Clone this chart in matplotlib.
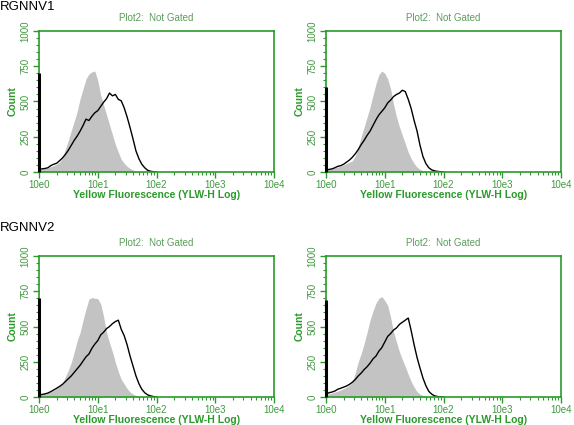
import numpy as np
import matplotlib
matplotlib.use("Agg")
import matplotlib.pyplot as plt
from matplotlib.ticker import FixedLocator, MultipleLocator, LogLocator, NullFormatter

plt.rcParams['font.family'] = ['Liberation Sans', 'DejaVu Sans']

# channel positions (log10 of fluorescence)
log_fl = [0.00, 0.05, 0.10, 0.15, 0.20, 0.25, 0.30, 0.35, 0.40, 0.45,
          0.50, 0.55, 0.60, 0.65, 0.70, 0.75, 0.80, 0.85, 0.90, 0.95,
          1.00, 1.05, 1.10, 1.15, 1.20, 1.25, 1.30, 1.35, 1.40, 1.45,
          1.50, 1.55, 1.60, 1.65, 1.70, 1.75, 1.80, 1.85, 1.90, 1.95, 2.00]

# control (grey filled) histograms
gray_tl = [20, 22, 25, 30, 38, 45, 55, 70, 100, 165, 225, 295, 360, 430, 520, 590, 660, 695, 710, 716,
           650, 545, 475, 405, 335, 265, 195, 140, 90, 62, 40, 25, 14, 7, 3, 1, 0, 0, 0, 0, 0]
gray_tr = [15, 20, 25, 30, 35, 42, 50, 60, 70, 80, 115, 180, 250, 320, 390, 460, 545, 625, 690, 716,
           700, 660, 590, 480, 390, 320, 260, 200, 140, 95, 60, 35, 18, 8, 3, 1, 0, 0, 0, 0, 0]
gray_bl = [18, 22, 26, 30, 38, 48, 60, 75, 95, 145, 190, 245, 320, 400, 457, 545, 625, 695, 705, 700,
           698, 660, 570, 457, 385, 320, 245, 180, 125, 92, 60, 35, 20, 10, 4, 1, 0, 0, 0, 0, 0]
gray_br = [18, 22, 28, 35, 42, 50, 60, 70, 85, 105, 175, 250, 310, 380, 460, 545, 610, 665, 700, 712,
           685, 650, 565, 460, 390, 320, 265, 215, 160, 110, 70, 38, 20, 10, 4, 1, 0, 0, 0, 0, 0]

# sample (black line) histograms
black_tl = [20, 22, 25, 30, 45, 55, 62, 80, 100, 125, 155, 190, 225, 255, 290, 330, 375, 365, 395, 420,
            435, 465, 495, 520, 560, 540, 550, 515, 505, 455, 390, 315, 235, 150, 95, 55, 30, 12, 5, 2, 0]
black_tr = [15, 18, 22, 30, 40, 45, 55, 70, 85, 105, 130, 160, 195, 225, 260, 290, 330, 370, 405, 430,
            455, 490, 510, 535, 550, 560, 580, 570, 515, 450, 365, 290, 190, 110, 60, 30, 15, 8, 4, 2, 0]
black_bl = [15, 18, 22, 28, 38, 50, 62, 75, 90, 110, 130, 150, 175, 200, 225, 255, 285, 305, 345, 375,
            400, 440, 460, 485, 500, 520, 535, 545, 480, 435, 370, 290, 220, 150, 95, 55, 30, 15, 8, 3, 0]
black_br = [20, 30, 35, 42, 55, 62, 70, 78, 90, 105, 125, 150, 170, 195, 215, 240, 270, 290, 325, 350,
            390, 430, 450, 475, 490, 515, 530, 545, 560, 470, 370, 280, 205, 135, 80, 40, 20, 8, 3, 1, 0]

# counts in the first (off-scale) channel
first_channel = [700, 600, 700, 690]

panel_titles = ["RGNNV1", "", "RGNNV2", ""]
x_ticks = [1, 10, 100, 1000, 10000]
x_ticklabels = ["10e0", "10e1", "10e2", "10e3", "10e4"]
y_ticks = [0, 250, 500, 750, 1000]

green = '#2a9a2a'
text_green = '#3f9a3f'
title_green = '#5a9e5a'

fig = plt.figure(figsize=(5.74, 4.25), dpi=100)

positions = [
    [39 / 574, 253 / 425, 235 / 574, 141 / 425],
    [326 / 574, 253 / 425, 235 / 574, 141 / 425],
    [39 / 574, 28 / 425, 235 / 574, 141 / 425],
    [326 / 574, 28 / 425, 235 / 574, 141 / 425],
]
label_y = [0.983, None, 0.463, None]
grays = [gray_tl, gray_tr, gray_bl, gray_br]
blacks = [black_tl, black_tr, black_bl, black_br]

x = 10 ** np.array(log_fl)

for i, pos in enumerate(positions):
    ax = fig.add_axes(pos)
    ax.fill_between(x, grays[i], color='#c3c3c3', lw=0)
    ax.plot(x, blacks[i], color='black', lw=1.0)
    ax.vlines(1, 0, first_channel[i], color='black', lw=2.2, clip_on=False, zorder=5)

    ax.set_xscale('log')
    ax.set_xlim(1, 10000)
    ax.set_ylim(0, 1000)

    ax.xaxis.set_major_locator(FixedLocator(x_ticks))
    ax.xaxis.set_minor_locator(LogLocator(base=10, subs=np.arange(2, 10)))
    ax.xaxis.set_minor_formatter(NullFormatter())
    ax.set_xticklabels(x_ticklabels)
    ax.yaxis.set_major_locator(FixedLocator(y_ticks))
    ax.yaxis.set_minor_locator(MultipleLocator(50))
    ax.set_yticklabels([str(v) for v in y_ticks], rotation=90, va='center')

    ax.tick_params(which='both', direction='out', color=green, labelcolor=text_green,
                   labelsize=7)
    ax.tick_params(which='major', length=4, width=1)
    ax.tick_params(which='minor', length=2.5, width=0.8)
    ax.tick_params(axis='y', pad=2)
    ax.tick_params(axis='x', pad=2)

    for sp in ax.spines.values():
        sp.set_color(green)
        sp.set_linewidth(1.2)

    ax.set_xlabel("Yellow Fluorescence (YLW-H Log)", color=green, fontsize=7.5,
                  fontweight='bold', labelpad=0)
    ax.set_ylabel("Count", color=green, fontsize=7.5, fontweight='bold', labelpad=2)
    ax.set_title("Plot2:  Not Gated", color=title_green, fontsize=7, pad=7)

    if panel_titles[i]:
        fig.text(0.0, label_y[i], panel_titles[i], fontsize=9.5,
                 ha='left', va='center', color='black')

fig.savefig("out.png", dpi=100)
